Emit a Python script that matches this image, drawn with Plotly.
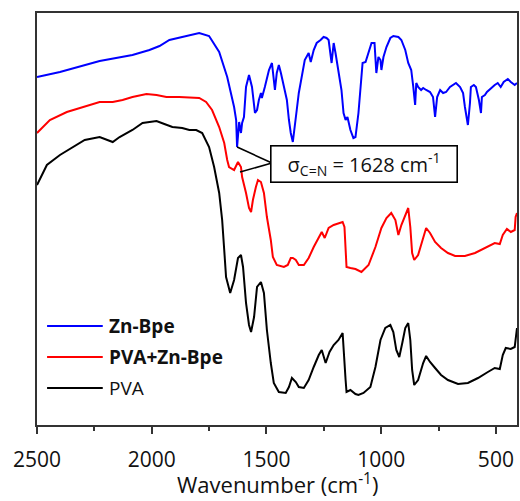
import plotly.graph_objects as go

# ---------------- data ----------------
zn_bpe_wn = [2500, 2400, 2227, 2084, 2010, 1966, 1923, 1836, 1793, 1750, 1706, 1671, 1654, 1641,
             1632, 1628, 1619, 1611, 1606, 1598, 1589, 1576, 1563, 1550, 1541, 1533, 1524, 1520,
             1507, 1489, 1476, 1468, 1463, 1455, 1446, 1437, 1424, 1411, 1402, 1394, 1385, 1376,
             1368, 1359, 1346, 1333, 1316, 1307, 1294, 1281, 1264, 1251, 1238, 1229, 1216, 1207,
             1199, 1186, 1173, 1164, 1155, 1147, 1134, 1121, 1112, 1099, 1090, 1081, 1068, 1055,
             1042, 1029, 1021, 1012, 1003, 999, 990, 977, 960, 947, 925, 912, 895, 882, 869, 860,
             852, 847, 839, 826, 817, 804, 787, 774, 765, 756, 743, 730, 717, 700, 687, 674, 656,
             643, 635, 622, 613, 609, 596, 587, 574, 565, 561, 548, 539, 522, 505, 492, 479, 466,
             448, 435, 418, 408]
zn_bpe_t = [348, 353, 364, 370, 375, 379, 385, 390, 392, 389, 373, 348, 332, 318,
            305, 278, 303, 292, 302, 308, 338, 350, 338, 312, 315, 325, 332, 327,
            338, 355, 362, 348, 335, 352, 360, 352, 338, 325, 305, 292, 283, 298,
            315, 332, 348, 365, 372, 363, 375, 382, 385, 388, 387, 385, 362, 382,
            372, 355, 335, 312, 305, 308, 295, 287, 288, 312, 338, 362, 363, 372,
            382, 382, 352, 368, 365, 355, 368, 378, 387, 389, 388, 385, 375, 362, 355, 338,
            320, 342, 338, 335, 337, 335, 333, 328, 308, 328, 335, 332, 333, 338, 340, 342, 338,
            332, 318, 300, 322, 338, 340, 338, 325, 312, 328, 330, 333, 337, 340, 342, 338, 343,
            346, 343, 340, 342]

pva_zn_wn = [2500, 2444, 2370, 2300, 2227, 2170, 2127, 2084, 2023, 1979, 1936, 1880, 1823, 1793,
             1763, 1737, 1706, 1684, 1671, 1663, 1641, 1624, 1611, 1606, 1589, 1576, 1567, 1559,
             1546, 1537, 1524, 1511, 1498, 1481, 1472, 1455, 1424, 1407, 1394, 1385, 1372, 1359,
             1337, 1316, 1294, 1272, 1259, 1246, 1229, 1207, 1186, 1168, 1160, 1155, 1151, 1134,
             1112, 1086, 1055, 1025, 999, 977, 956, 938, 925, 912, 895, 882, 873, 865, 856, 839,
             817, 804, 787, 765, 739, 709, 678, 635, 591, 548, 505, 483, 470, 452, 435, 418, 414, 408]
pva_zn_t = [292, 305, 313, 318, 323, 323, 325, 328, 331, 330, 328, 328, 327, 327,
            323, 315, 298, 282, 265, 258, 255, 263, 258, 248, 232, 217, 213, 225,
            238, 245, 243, 232, 208, 185, 168, 160, 158, 160, 167, 167, 165, 160,
            160, 167, 178, 188, 193, 187, 197, 200, 202, 203, 198, 168, 158, 157,
            156, 153, 160, 178, 197, 207, 212, 205, 190, 200, 210, 217, 198, 172, 165, 170,
            187, 197, 192, 183, 177, 172, 169, 169, 172, 177, 182, 181, 190, 196, 193, 195, 208, 212]

pva_wn = [2500, 2457, 2400, 2344, 2292, 2227, 2192, 2170, 2140, 2084, 2040, 1979, 1945, 1910,
          1867, 1836, 1806, 1780, 1750, 1728, 1706, 1693, 1684, 1676, 1667, 1658, 1641, 1624,
          1611, 1602, 1589, 1576, 1567, 1554, 1541, 1524, 1511, 1498, 1481, 1468, 1446, 1416,
          1402, 1389, 1372, 1359, 1337, 1316, 1294, 1272, 1259, 1242, 1225, 1207, 1186, 1168,
          1155, 1151, 1134, 1112, 1099, 1077, 1047, 1025, 1003, 982, 960, 947, 934, 921, 908,
          895, 882, 873, 865, 856, 839, 817, 804, 787, 765, 739, 709, 665, 622, 578, 535, 505,
          483, 470, 457, 435, 418, 414, 408]
pva_t = [240, 260, 270, 278, 285, 288, 285, 283, 288, 295, 302, 304, 301, 298,
         297, 295, 295, 292, 278, 258, 232, 205, 175, 148, 140, 132, 145, 167,
         170, 158, 122, 100, 93, 108, 138, 143, 132, 95, 62, 42, 33, 32,
         38, 47, 43, 38, 37, 45, 58, 70, 75, 62, 73, 80, 85, 92,
         45, 33, 35, 31, 30, 32, 38, 58, 85, 97, 100, 93, 75, 68, 82,
         97, 102, 85, 55, 40, 45, 62, 69, 63, 57, 50, 45, 41, 42, 47, 53, 57,
         56, 70, 77, 76, 78, 88, 97]

series_names = ["Zn-Bpe", "PVA+Zn-Bpe", "PVA"]
series_colors = ["#0000FF", "#FF0000", "#000000"]
series_bold = [True, True, False]
series_x = [zn_bpe_wn, pva_zn_wn, pva_wn]
series_y = [zn_bpe_t, pva_zn_t, pva_t]

x_ticks = [2500, 2000, 1500, 1000, 500]
x_title = "Wavenumber (cm<sup>-1</sup>)"
peak_label = "σ<sub>C=N</sub> = 1628 cm<sup>-1</sup>"
peak_blue = (1628, 278)
peak_red = (1615, 253)

FONT = "Open Sans, Liberation Sans, Arial, sans-serif"

fig = go.Figure()
for xs, ys, name, col in zip(series_x, series_y, series_names, series_colors):
    fig.add_trace(go.Scatter(x=xs, y=ys, mode="lines", name=name,
                             line=dict(color=col, width=2), showlegend=False))

# pointer lines from label box to the two C=N peaks
box_left = (1476, 262)
for px, py in (peak_blue, peak_red):
    fig.add_shape(type="line", xref="x", yref="y", x0=box_left[0], y0=box_left[1],
                  x1=px, y1=py, line=dict(color="black", width=1.6))

fig.add_annotation(x=1077, y=261.5, xref="x", yref="y", text=peak_label, showarrow=False,
                   font=dict(family=FONT, size=20, color="#111"), bordercolor="black",
                   borderwidth=1.6, borderpad=2, bgcolor="white", xanchor="center",
                   yanchor="middle", width=181, height=31)

# legend drawn in paper coordinates
leg_y = [0.240, 0.165, 0.090]
for name, col, bold, ly in zip(series_names, series_colors, series_bold, leg_y):
    fig.add_shape(type="line", xref="paper", yref="paper", x0=0.021, x1=0.137, y0=ly, y1=ly,
                  line=dict(color=col, width=2))
    fig.add_annotation(x=0.146, y=ly, xref="paper", yref="paper", showarrow=False,
                       text=f"<b>{name}</b>" if bold else name, xanchor="left", yanchor="middle",
                       font=dict(family=FONT, size=19, color="#111"))

# axis title as a paper annotation below the tick labels
fig.add_annotation(x=0.5, y=-0.183, xref="paper", yref="paper", showarrow=False,
                   text=x_title, xanchor="center", yanchor="bottom", borderpad=0,
                   font=dict(family=FONT, size=22, color="#111"))

fig.update_layout(
    width=520, height=501,
    margin=dict(l=37, r=1, t=13, b=76),
    paper_bgcolor="white", plot_bgcolor="white",
    font=dict(family=FONT, color="#111"),
    xaxis=dict(range=[2500, 408], tickvals=x_ticks, ticks="outside", ticklen=7, tickwidth=1.5,
               tickcolor="#333", showline=True, linecolor="#333", linewidth=1.6, mirror=True,
               showgrid=False, zeroline=False, tickfont=dict(size=21, family=FONT, color="#111"),
               ticklabelstandoff=8,
               minor=dict(ticks="outside", ticklen=4, tickwidth=1.5, tickcolor="#333",
                          dtick=250, tick0=0, showgrid=False)),
    yaxis=dict(range=[0, 412], showticklabels=False, ticks="", showline=True, linecolor="#333",
               linewidth=1.6, mirror=True, showgrid=False, zeroline=False),
)

fig.write_html("out.html")
